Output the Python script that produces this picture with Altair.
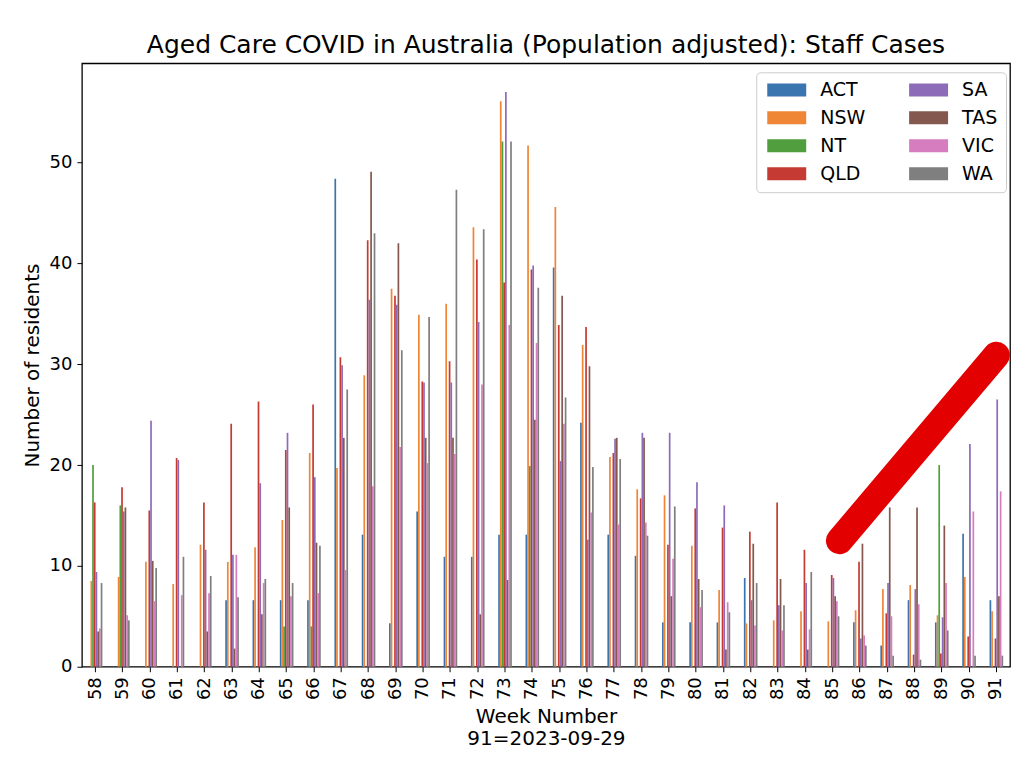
import altair as alt
import pandas as pd

weeks = list(range(58, 92))
states = ["ACT", "NSW", "NT", "QLD", "SA", "TAS", "VIC", "WA"]
colors = ["#3b75af", "#ef8636", "#519e3e", "#c53a32", "#8d6bb8", "#84584e", "#d57dbf", "#7f7f7f"]

act = [0, 0, 0, 0, 0, 6.6, 6.6, 6.6, 6.6, 48.4, 13.1, 4.3, 15.4, 10.9, 10.9, 13.1, 13.1,
       39.6, 24.2, 13.1, 11.0, 4.4, 4.4, 4.4, 8.8, 0, 0, 0, 4.4, 2.1, 6.6, 4.4, 13.2, 6.6]
nsw = [8.5, 8.9, 10.4, 8.2, 12.1, 10.4, 11.85, 14.55, 21.2, 19.7, 28.9, 37.5, 34.9, 36.0, 43.6, 56.1, 51.7,
       45.6, 31.9, 20.8, 17.6, 17.0, 12.0, 7.6, 4.3, 4.6, 5.5, 4.5, 5.6, 7.7, 8.1, 5.1, 8.9, 5.5]
nt = [20.0, 16.0, 0, 0, 0, 0, 0, 4.0, 4.0, 0, 0, 0, 0, 0, 0, 52.1, 19.9,
      0, 0, 0, 0, 0, 0, 0, 0, 0, 0, 0, 0, 0, 0, 20.0, 0, 0]
qld = [16.3, 17.8, 15.5, 20.7, 16.3, 24.1, 26.3, 21.5, 26.0, 30.7, 42.3, 36.8, 28.3, 30.3, 40.4, 38.1, 39.4,
       33.9, 33.7, 21.2, 16.7, 12.1, 15.7, 13.8, 13.4, 16.3, 11.6, 9.1, 10.4, 5.3, 1.2, 1.3, 3.0, 2.8]
sa = [9.4, 15.4, 24.4, 20.5, 11.6, 11.1, 18.2, 23.2, 18.8, 29.9, 36.4, 35.9, 28.2, 28.2, 34.2, 57.0, 39.8,
      20.4, 12.6, 22.6, 23.2, 23.2, 18.3, 16.0, 6.6, 6.1, 8.3, 8.8, 2.8, 8.3, 7.7, 4.9, 22.1, 26.5]
tas = [3.5, 15.8, 10.5, 0, 3.5, 1.8, 5.2, 15.8, 12.3, 22.7, 49.1, 42.0, 22.7, 22.7, 5.2, 8.6, 24.5,
       36.8, 29.8, 22.7, 22.7, 7.0, 8.7, 1.7, 12.2, 8.7, 1.7, 7.0, 12.2, 15.8, 15.8, 14.0, 0, 7.0]
vic = [3.8, 5.1, 6.5, 7.1, 7.3, 11.1, 8.3, 7.0, 7.3, 9.6, 17.9, 21.8, 20.2, 21.1, 28.0, 33.9, 32.1,
       24.1, 15.3, 14.1, 14.3, 10.7, 5.9, 6.4, 4.1, 3.6, 3.7, 6.5, 3.1, 5.0, 6.2, 8.3, 15.4, 17.4]
wa = [8.3, 4.6, 9.8, 10.9, 9.0, 6.9, 8.7, 8.3, 12.0, 27.5, 43.0, 31.4, 34.7, 47.3, 43.4, 52.1, 37.6,
      26.7, 19.8, 20.6, 13.0, 15.9, 7.6, 5.4, 8.3, 6.1, 9.4, 5.0, 2.1, 1.1, 0.7, 3.6, 1.1, 1.1]

# hand-drawn red stroke annotation (week, value)
mark_weeks = [85.25, 91.0]
mark_values = [12.5, 30.9]

series = [act, nsw, nt, qld, sa, tas, vic, wa]
rows = []
for st, vals in zip(states, series):
    for w, v in zip(weeks, vals):
        rows.append({"week": w, "state": st, "value": v})
df = pd.DataFrame(rows)
ann = pd.DataFrame({"wk": mark_weeks, "val": mark_values})

FONT = "DejaVu Sans"
ydom = [0, 59.85]

bars = alt.Chart(df).mark_bar(strokeWidth=0).encode(
    x=alt.X("week:O", sort=weeks,
            scale=alt.Scale(paddingInner=0.5, paddingOuter=0.25),
            axis=alt.Axis(title=["Week Number", "91=2023-09-29"], labelAngle=270,
                          labelFontSize=18, titleFontSize=20, titleFont=FONT, labelFont=FONT,
                          tickSize=5, labelPadding=5, titlePadding=7, titleLineHeight=22,
                          domain=False, grid=False, tickColor="black", labelColor="black",
                          titleColor="black", titleFontWeight="normal")),
    xOffset=alt.XOffset("state:N", sort=states, scale=alt.Scale(paddingInner=0, paddingOuter=0)),
    y=alt.Y("value:Q", scale=alt.Scale(domain=ydom, nice=False, zero=True),
            axis=alt.Axis(title="Number of residents", values=[0, 10, 20, 30, 40, 50],
                          labelFontSize=18, titleFontSize=20, titleFont=FONT, labelFont=FONT,
                          tickSize=5, labelPadding=5, titlePadding=7, domain=False, grid=False,
                          tickColor="black", labelColor="black", titleColor="black",
                          titleFontWeight="normal")),
    color=alt.Color("state:N", scale=alt.Scale(domain=states, range=colors),
                    legend=alt.Legend(title=None, orient="none", legendX=675, legendY=9,
                                      columns=2, symbolType="M-1,-1H5V1H-1Z", symbolSize=169,
                                      symbolStrokeWidth=0, symbolOpacity=1,
                                      labelFontSize=19, labelFont=FONT, labelColor="black",
                                      labelOffset=37, rowPadding=8, columnPadding=40,
                                      padding=8, fillColor="white", strokeColor="#cccccc",
                                      cornerRadius=4)),
)

stroke = alt.Chart(ann).mark_line(color="#e30000", strokeWidth=27, strokeCap="round").encode(
    x=alt.X("wk:Q", scale=alt.Scale(domain=[57.5, 91.5], nice=False, zero=False), axis=None),
    y=alt.Y("val:Q", scale=alt.Scale(domain=ydom, nice=False, zero=True)),
)

chart = alt.layer(bars, stroke).resolve_scale(x="independent").properties(
    width=929, height=604,
    background="white",
    title=alt.Title("Aged Care COVID in Australia (Population adjusted): Staff Cases",
                    fontSize=25, font=FONT, fontWeight="normal", color="black",
                    offset=8, baseline="alphabetic", dy=23),
    autosize=alt.AutoSizeParams(type="none"),
    padding={"left": 74, "top": 55, "right": 10, "bottom": 100},
).configure_view(stroke="#000000", strokeWidth=1.3)

chart.save("out.html", embed_options={"renderer": "svg", "actions": False})
